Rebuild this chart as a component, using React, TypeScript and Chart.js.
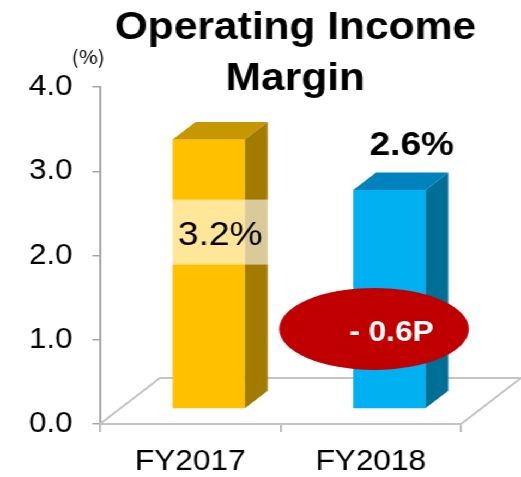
import React, { useEffect, useRef } from 'react';
import { Chart, registerables } from 'chart.js';

Chart.register(...registerables);

// ---- data ----
const titleLines = ['Operating Income', 'Margin'];
const unitLabel = '(%)';
const categories = ['FY2017', 'FY2018'];
const margins = [3.2, 2.6];
const yMin = 0;
const yMax = 4;
const yStep = 1;
const frontColors = ['#FFC000', '#00B0F0'];
const topColors = ['#C79700', '#0083BD'];
const sideColors = ['#A37B00', '#006F98'];

// ---- layout (canvas px; canvas is stretched horizontally by CSS) ----
const CW = 478;
const CH = 477;
const SX = 521 / CW;
const FONT = "'Liberation Sans', Arial, Helvetica, sans-serif";
const DX1 = 17; // bar offset into depth
const DY1 = -15;
const DDX = 21; // bar depth
const DDY = -17.5;
const FDX = 55; // floor depth
const FDY = -46;

const threeD = {
  id: 'threeD',
  beforeDatasetsDraw(chart: any) {
    const { ctx, chartArea: a, scales } = chart;
    const y0 = scales.y.getPixelForValue(0);
    ctx.save();
    ctx.strokeStyle = '#c4c4c4';
    ctx.lineWidth = 2;
    ctx.lineJoin = 'round';
    ctx.beginPath();
    ctx.moveTo(a.left, y0);
    ctx.lineTo(a.left + FDX, y0 + FDY);
    ctx.lineTo(a.right + FDX, y0 + FDY);
    ctx.lineTo(a.right, y0);
    ctx.stroke();
    ctx.restore();
  },
  afterDatasetsDraw(chart: any) {
    const { ctx, scales } = chart;
    const ys = scales.y;
    const meta = chart.getDatasetMeta(0);
    const geo: any[] = [];
    meta.data.forEach((el: any, i: number) => {
      const p = el.getProps(['x', 'y', 'base', 'width'], true);
      const left = p.x - p.width / 2 + DX1;
      const right = left + p.width;
      const top = p.y + DY1;
      const bottom = p.base + DY1;
      geo.push({ left, right, top, bottom });
      ctx.save();
      // front
      ctx.fillStyle = frontColors[i];
      ctx.fillRect(left, top, right - left, bottom - top);
      // top
      ctx.fillStyle = topColors[i];
      ctx.beginPath();
      ctx.moveTo(left, top);
      ctx.lineTo(left + DDX, top + DDY);
      ctx.lineTo(right + DDX, top + DDY);
      ctx.lineTo(right, top);
      ctx.closePath();
      ctx.fill();
      // side
      ctx.fillStyle = sideColors[i];
      ctx.beginPath();
      ctx.moveTo(right, top);
      ctx.lineTo(right + DDX, top + DDY);
      ctx.lineTo(right + DDX, bottom + DDY);
      ctx.lineTo(right, bottom);
      ctx.closePath();
      ctx.fill();
      ctx.restore();
    });

    // label for first bar: boxed, inside
    const g0 = geo[0];
    if (g0) {
      const cy = ys.getPixelForValue(2.1) + DY1;
      const bl = g0.left - 1;
      const br = g0.right + DDX + 1;
      ctx.save();
      ctx.fillStyle = 'rgba(255,255,255,0.6)';
      ctx.fillRect(bl, cy - 32.5, br - bl, 65);
      ctx.fillStyle = '#000';
      ctx.font = `34px ${FONT}`;
      ctx.textAlign = 'center';
      ctx.textBaseline = 'alphabetic';
      ctx.fillText(`${margins[0].toFixed(1)}%`, (bl + br) / 2, cy + 12.5);
      ctx.restore();
    }
    // label for second bar: bold, above
    const g1 = geo[1];
    if (g1) {
      ctx.save();
      ctx.fillStyle = '#000';
      ctx.font = `bold 34px ${FONT}`;
      ctx.textAlign = 'center';
      ctx.textBaseline = 'alphabetic';
      ctx.fillText(`${margins[1].toFixed(1)}%`, (g1.left + g1.right) / 2 + 20.6, g1.top - 35);
      ctx.restore();

      // difference ellipse
      const d = margins[1] - margins[0];
      const txt = `${d < 0 ? '- ' : '+ '}${Math.abs(d).toFixed(1)}P`;
      const ecx = (g1.left + g1.right) / 2 - 14;
      const ecy = ys.getPixelForValue(0.95) + DY1;
      ctx.save();
      ctx.fillStyle = '#C00000';
      ctx.beginPath();
      ctx.ellipse(ecx, ecy, 87, 41, 0, 0, Math.PI * 2);
      ctx.fill();
      ctx.fillStyle = '#fff';
      ctx.font = `bold 29px ${FONT}`;
      ctx.textAlign = 'center';
      ctx.textBaseline = 'alphabetic';
      ctx.fillText(txt, ecx + 16, ecy + 12);
      ctx.restore();
    }
  },
  afterDraw(chart: any) {
    const { ctx } = chart;
    ctx.save();
    ctx.fillStyle = '#000';
    ctx.font = `bold 39px ${FONT}`;
    ctx.textAlign = 'center';
    ctx.textBaseline = 'alphabetic';
    ctx.fillText(titleLines[0], 271, 39);
    ctx.fillText(titleLines[1], 271, 90);
    ctx.font = `19px 'Noto Sans CJK JP', sans-serif`;
    ctx.fillText(unitLabel, 81, 64);
    ctx.restore();
  },
};

export default function App() {
  const ref = useRef<HTMLCanvasElement>(null);
  useEffect(() => {
    document.body.style.margin = '0';
    const chart = new Chart(ref.current as HTMLCanvasElement, {
      type: 'bar',
      data: {
        labels: categories,
        datasets: [
          {
            data: margins,
            backgroundColor: 'rgba(0,0,0,0)',
            borderWidth: 0,
            barPercentage: 0.4,
            categoryPercentage: 1,
          },
        ],
      },
      options: {
        responsive: false,
        animation: false,
        devicePixelRatio: 1,
        layout: { padding: { top: 87, right: CW - 423, bottom: 0, left: 0 } },
        plugins: { legend: { display: false }, tooltip: { enabled: false }, title: { display: false } },
        scales: {
          x: {
            offset: true,
            afterFit: (s: any) => {
              s.height = CH - 424;
            },
            grid: {
              offset: true,
              drawOnChartArea: false,
              drawTicks: true,
              tickLength: 8,
              color: '#a6a6a6',
              lineWidth: 1.5,
            },
            border: { display: true, color: '#c4c4c4', width: 2 },
            ticks: { color: '#000', font: { family: FONT, size: 29 }, padding: 13 },
          },
          y: {
            min: yMin,
            max: yMax,
            afterFit: (s: any) => {
              s.width = 91.7;
            },
            grid: {
              drawOnChartArea: false,
              drawTicks: true,
              tickLength: 7,
              color: '#a6a6a6',
              lineWidth: 1.5,
            },
            border: { display: true, color: '#a6a6a6', width: 2 },
            ticks: {
              stepSize: yStep,
              color: '#000',
              font: { family: FONT, size: 29 },
              padding: 18,
              callback: (v: any) => Number(v).toFixed(1),
            },
          },
        },
      },
      plugins: [threeD],
    });
    return () => chart.destroy();
  }, []);
  return (
    <div
      style={{
        position: 'fixed',
        left: 0,
        top: 0,
        width: CW,
        height: CH,
        transform: `scaleX(${SX})`,
        transformOrigin: '0 0',
        background: '#fff',
      }}
    >
      <canvas ref={ref} width={CW} height={CH} style={{ width: CW, height: CH, display: 'block' }} />
    </div>
  );
}
